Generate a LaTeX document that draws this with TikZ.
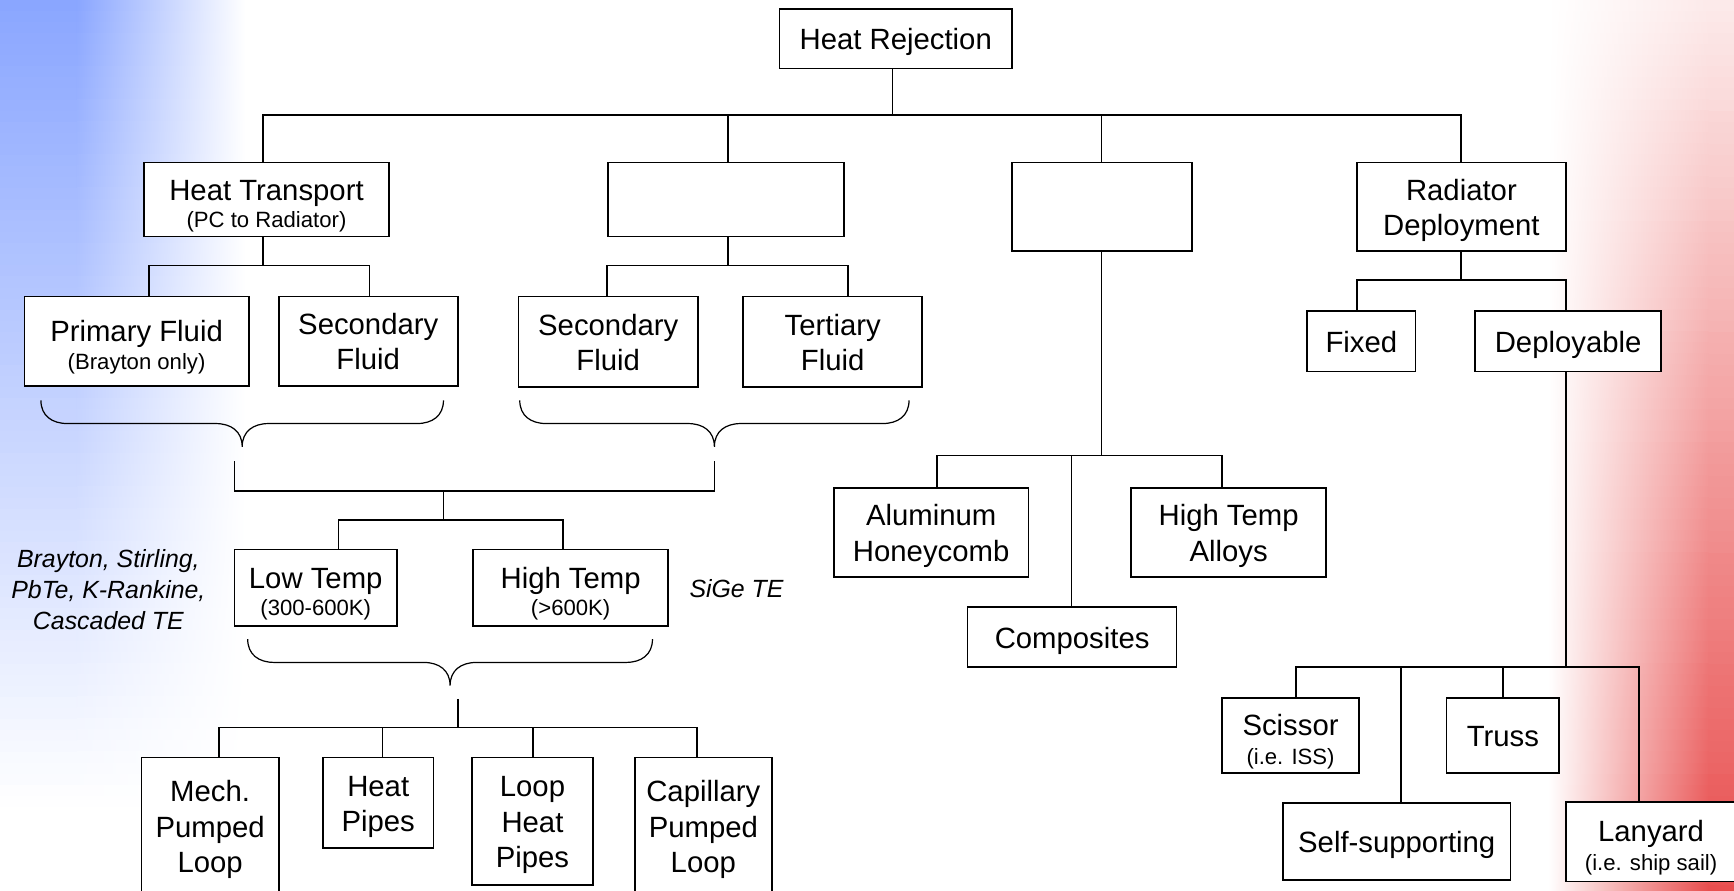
\documentclass[tikz,border=0pt]{standalone}
\usepackage{fontspec}
\setmainfont{Liberation Sans}
\definecolor{bgblue}{RGB}{138,166,255}
\definecolor{bgred}{RGB}{232,78,78}
\newcommand\mainf{\fontsize{26.5}{32}\selectfont}
\newcommand\subf{\fontsize{20}{24}\selectfont}
\newcommand\itf{\fontsize{22.5}{28}\selectfont\itshape}
\newcommand\st{\rule[-6pt]{0pt}{32pt}}
\newcommand\sub[1]{\smash{\subf #1}}
\tikzset{
  box/.style={draw, line width=1.5pt, fill=white, inner sep=0pt, align=center, font=\mainf},
  conn/.style={line width=1.5pt},
  bracel/.style={line width=1.1pt},
  note/.style={align=center, font=\itf, inner sep=0pt},
}
% #1 left x, #2 right x, #3 top y, #4 tip x
\newcommand\hbrace[4]{%
  \draw[bracel] (#1,#3) .. controls (#1,#3+14) and (#1+10,#3+21) .. (#1+24,#3+21)
    -- (#4-24,#3+21) .. controls (#4-10,#3+21) and (#4,#3+28) .. (#4,#3+42)
    .. controls (#4,#3+28) and (#4+10,#3+21) .. (#4+24,#3+21)
    -- (#2-24,#3+21) .. controls (#2-10,#3+21) and (#2,#3+14) .. (#2,#3);}
\begin{document}
\begin{tikzpicture}[x=1pt,y=-1pt]
\useasboundingbox (0,0) rectangle (1568,805);
\clip (0,0) rectangle (1568,805);
\fill[white] (0,0) rectangle (1568,805);
% background gradients
\foreach \i in {0,...,80}{
  \pgfmathtruncatemacro\p{max(0,100-\i*10/7.3)}
  \fill[bgblue!\p!white] (0,\i*10) rectangle (70,\i*10+10.6);
  \shade[left color=bgblue!\p!white, right color=white] (69.5,\i*10) rectangle (222,\i*10+10.6);
}
\foreach \i in {0,...,80}{
  \pgfmathtruncatemacro\q{min(100,12+\i*10*0.11)}
  \shade[left color=white, right color=bgred!\q!white] (1400,\i*10) rectangle (1545,\i*10+10.6);
  \fill[bgred!\q!white] (1544.5,\i*10) rectangle (1568,\i*10+10.6);
}
% nodes
\node[box, minimum width=210, minimum height=54] (hr) at (810,35) {\st Heat Rejection};
\node[box, minimum width=222, minimum height=67] (ht) at (241,180.5) {\st Heat Transport\\[-7pt]\sub{(PC to Radiator)}};
\node[box, minimum width=213, minimum height=67] (b2) at (656.5,180.5) {};
\node[box, minimum width=163, minimum height=80] (b3) at (996.5,187) {};
\node[box, minimum width=189, minimum height=80] (rd) at (1321.5,187) {\st Radiator\\Deployment\st};
\node[box, minimum width=203, minimum height=81] (pf) at (123.5,308.5) {\st Primary Fluid\\[-7pt]\sub{(Brayton only)}};
\node[box, minimum width=162, minimum height=81] (sf1) at (333,308.5) {\st Secondary\\Fluid\st};
\node[box, minimum width=162, minimum height=82] (sf2) at (550,309) {\st Secondary\\Fluid\st};
\node[box, minimum width=162, minimum height=82] (tf) at (753,309) {\st Tertiary\\Fluid\st};
\node[box, minimum width=147, minimum height=69] (lt) at (285.5,531.5) {\st Low Temp\\[-7pt]\sub{(300-600K)}};
\node[box, minimum width=176, minimum height=69] (htp) at (516,531.5) {\st High Temp\\[-7pt]\sub{(>600K)}};
\node[box, minimum width=124, minimum height=124] (mpl) at (190,747) {\st Mech.\\Pumped\\Loop\st};
\node[box, minimum width=100, minimum height=82] (hp) at (342,726) {\st Heat\\Pipes\st};
\node[box, minimum width=109, minimum height=115] (lhp) at (481.5,742.5) {\st Loop\\Heat\\Pipes\st};
\node[box, minimum width=124, minimum height=124] (cpl) at (636,747) {\st Capillary\\Pumped\\Loop\st};
\node[box, minimum width=176, minimum height=81] (ah) at (842,481.5) {\st Aluminum\\Honeycomb\st};
\node[box, minimum width=176, minimum height=81] (hta) at (1111,481.5) {\st High Temp\\Alloys\st};
\node[box, minimum width=189, minimum height=54] (comp) at (969.5,576) {\st Composites};
\node[box, minimum width=98, minimum height=55] (fx) at (1231,308.5) {\st Fixed};
\node[box, minimum width=168, minimum height=55] (dp) at (1418,308.5) {\st Deployable};
\node[box, minimum width=124, minimum height=68] (sc) at (1167,665) {\st Scissor\\[-6pt]\sub{(i.e. ISS)}};
\node[box, minimum width=102, minimum height=68] (tr) at (1359,665) {\st Truss};
\node[box, minimum width=206, minimum height=70] (ss) at (1263,761) {\st Self-supporting};
\node[box, minimum width=154, minimum height=72] (ly) at (1493,761) {\st Lanyard\\[-6pt]\sub{(i.e. ship sail)}};
\node[note] (n1) at (98,533) {Brayton, Stirling,\\PbTe, K-Rankine,\\Cascaded TE};
\node[note] (n2) at (666,532) {SiGe TE};
% top level
\coordinate (j0) at (807,104);
\draw[conn] ([xshift=-3pt]hr.south) -- (j0);
\draw[conn] ([xshift=-3pt]ht.north) |- (j0);
\draw[conn] ([xshift=1.5pt]b2.north) |- (j0);
\draw[conn] ([xshift=-0.5pt]b3.north) |- (j0);
\draw[conn] ([xshift=-0.5pt]rd.north) |- (j0);
% heat transport
\coordinate (j1) at (238,240);
\draw[conn] ([xshift=-3pt]ht.south) -- (j1);
\draw[conn] ([xshift=11.5pt]pf.north) |- (j1);
\draw[conn] ([xshift=1pt]sf1.north) |- (j1);
\coordinate (j2) at (658,240);
\draw[conn] ([xshift=1.5pt]b2.south) -- (j2);
\draw[conn] ([xshift=-1pt]sf2.north) |- (j2);
\draw[conn] ([xshift=14pt]tf.north) |- (j2);
% braces and bracket
\hbrace{37}{401}{362}{219}
\hbrace{470}{822}{362}{646}
\coordinate (k1) at (212,417);
\coordinate (k2) at (646,417);
\coordinate (j6) at (401,444);
\draw[conn] (k1) |- (j6);
\draw[conn] (k2) |- (j6);
\coordinate (j7) at (401,470);
\draw[conn] (j6) -- (j7);
\draw[conn] ([xshift=20.5pt]lt.north) |- (j7);
\draw[conn] ([xshift=-7pt]htp.north) |- (j7);
\hbrace{224}{590}{578}{407}
\coordinate (k3) at (414,632);
\coordinate (j8) at (414,658);
\draw[conn] (k3) -- (j8);
\draw[conn] ([xshift=8pt]mpl.north) |- (j8);
\draw[conn] ([xshift=4pt]hp.north) |- (j8);
\draw[conn] ([xshift=0.5pt]lhp.north) |- (j8);
\draw[conn] ([xshift=-6pt]cpl.north) |- (j8);
% materials
\coordinate (j3) at (996,412);
\draw[conn] ([xshift=-0.5pt]b3.south) -- (j3);
\draw[conn] ([xshift=5pt]ah.north) |- (j3);
\draw[conn] ([xshift=-0.5pt]comp.north) |- (j3);
\draw[conn] ([xshift=-6pt]hta.north) |- (j3);
% deployment
\coordinate (j4) at (1321,253);
\draw[conn] ([xshift=-0.5pt]rd.south) -- (j4);
\draw[conn] ([xshift=-4pt]fx.north) |- (j4);
\draw[conn] ([xshift=-2pt]dp.north) |- (j4);
\coordinate (j5) at (1416,603);
\draw[conn] ([xshift=-2pt]dp.south) -- (j5);
\draw[conn] ([xshift=5pt]sc.north) |- (j5);
\draw[conn] ([xshift=4pt]ss.north) |- (j5);
\draw[conn] (tr.north) |- (j5);
\draw[conn] ([xshift=-11pt]ly.north) |- (j5);
\end{tikzpicture}
\end{document}
